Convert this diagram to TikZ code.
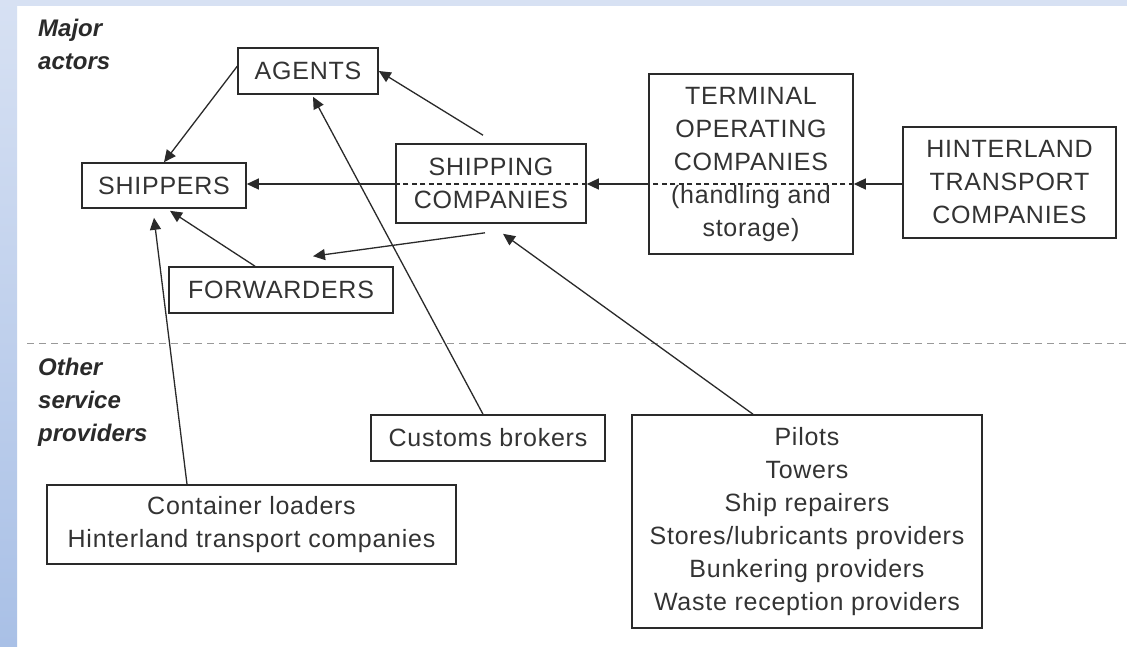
\documentclass[tikz,border=0pt]{standalone}
\usepackage{fontspec}
\setmainfont{Liberation Sans}
\newfontfamily\boxfont{Liberation Sans}[LetterSpace=3]
\usetikzlibrary{arrows.meta,calc}
\definecolor{inkc}{HTML}{2A2A2A}
\definecolor{textc}{HTML}{333333}
\definecolor{bandlight}{HTML}{D7E1F3}
\definecolor{banddark}{HTML}{A9C0E6}
\tikzset{
  actor/.style={draw=inkc, line width=1.6pt, rectangle, inner sep=0pt,
    align=center, text=textc, font=\boxfont\fontsize{25}{33}\selectfont},
  link/.style={draw=inkc, line width=1.3pt,
    -{Triangle[length=12pt,width=11pt]}},
  inbox/.style={draw=inkc, line width=1.2pt, dash pattern=on 5pt off 3.5pt},
  divider/.style={draw=gray!80, line width=1pt, dash pattern=on 7pt off 5pt},
  zonelabel/.style={anchor=west, inner sep=0pt, text=inkc,
    font=\bfseries\itshape\fontsize{24}{33}\selectfont, align=left}
}
\begin{document}
\begin{tikzpicture}[x=1pt,y=-1pt]
\useasboundingbox (0,0) rectangle (1127,646);
% page background with the blue frame on top and left
\fill[white] (0,0) rectangle (1127,646);
\fill[bandlight] (0,0) rectangle (1127,6);
\shade[top color=bandlight, bottom color=banddark] (0,0) rectangle (17,646);

% zone labels and divider
\node[zonelabel] (lmajor) at (38,44) {Major\\actors};
\node[zonelabel] (lother) at (38,402) {Other\\service\\providers};
\coordinate (divL) at (27,343);
\coordinate (divR) at (1127,343);
\draw[divider] (divL) -- (divR);

% major actors
\node[actor, minimum width=140pt, minimum height=46pt] (agents) at (308,71) {AGENTS};
\node[actor, minimum width=164pt, minimum height=45pt] (shippers) at (164,185.5) {SHIPPERS};
\node[actor, minimum width=224pt, minimum height=46pt] (fwd) at (281,290) {FORWARDERS};
\node[actor, minimum width=190pt, minimum height=79pt] (ship) at (491,183.5) {SHIPPING\\COMPANIES};
\node[actor, minimum width=204pt, minimum height=180pt] (term) at (751,164)
  {TERMINAL\\OPERATING\\COMPANIES\\(handling and\\storage)};
\node[actor, minimum width=213pt, minimum height=111pt] (hint) at (1009.5,182.5)
  {HINTERLAND\\TRANSPORT\\COMPANIES};

% other service providers
\node[actor, minimum width=234pt, minimum height=46pt] (customs) at (488,438) {Customs brokers};
\node[actor, minimum width=350pt, minimum height=213pt] (pilots) at (807,521.5)
  {Pilots\\Towers\\Ship repairers\\Stores/lubricants providers\\Bunkering providers\\Waste reception providers};
\node[actor, minimum width=409pt, minimum height=79pt] (cont) at (251.5,524.5)
  {Container loaders\\Hinterland transport companies};

% main cargo flow line
\coordinate (flow) at (0,184);
\draw[link] (hint.west |- flow) -- (term.east |- flow);
\draw[inbox] (term.east |- flow) -- (term.west |- flow);
\draw[link] (term.west |- flow) -- (ship.east |- flow);
\draw[inbox] (ship.east |- flow) -- ($(ship.west |- flow)+(-8,0)$);
\draw[link] (ship.west |- flow) -- (shippers.east |- flow);

% relations between actors
\draw[link] ($(agents.west)+(1,-6)$) -- (shippers.north);
\draw[link] ($(ship.north)+(-8,-8)$) -- (agents.east);
\draw[link] ($(ship.south)+(-6,9)$) -- ($(fwd.north)+(32,-10)$);
\draw[link] ($(fwd.north)+(-26,0)$) -- ($(shippers.south)+(6,2)$);

% service providers
\draw[link] ($(customs.north)+(-5,0)$) -- ($(agents.south)+(5,2)$);
\draw[link] ($(cont.north)+(-64.5,0)$) -- ($(shippers.south)+(-10,9)$);
\draw[link] ($(pilots.north)+(-54,0)$) -- ($(ship.south)+(12,10)$);
\end{tikzpicture}
\end{document}
